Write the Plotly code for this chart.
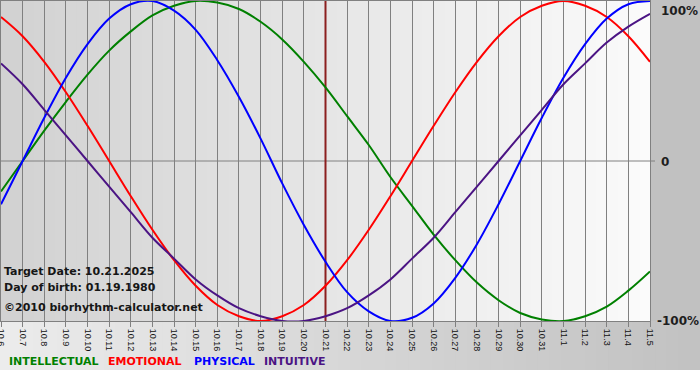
import plotly.graph_objects as go

# ---- data (fraction of 100%) ----
dates = ["10.6", "10.7", "10.8", "10.9", "10.10", "10.11", "10.12", "10.13", "10.14", "10.15",
         "10.16", "10.17", "10.18", "10.19", "10.20", "10.21", "10.22", "10.23", "10.24", "10.25",
         "10.26", "10.27", "10.28", "10.29", "10.30", "10.31", "11.1", "11.2", "11.3", "11.4", "11.5"]

intellectual = [-0.19, 0.00, 0.19, 0.37, 0.54, 0.69, 0.81, 0.91, 0.97, 1.00, 0.99, 0.95, 0.87, 0.76, 0.62, 0.46,
                0.28, 0.10, -0.10, -0.28, -0.46, -0.62, -0.76, -0.87, -0.95, -0.99, -1.00, -0.97, -0.91, -0.81, -0.69]
emotional = [0.90, 0.78, 0.62, 0.43, 0.22, 0.00, -0.22, -0.43, -0.62, -0.78, -0.90, -0.97, -1.00, -0.97, -0.90, -0.78,
             -0.62, -0.43, -0.22, 0.00, 0.22, 0.43, 0.62, 0.78, 0.90, 0.97, 1.00, 0.97, 0.90, 0.78, 0.62]
physical = [-0.27, 0.00, 0.27, 0.52, 0.73, 0.89, 0.98, 1.00, 0.94, 0.82, 0.63, 0.40, 0.14, -0.14, -0.40, -0.63,
            -0.82, -0.94, -1.00, -0.98, -0.89, -0.73, -0.52, -0.27, 0.00, 0.27, 0.52, 0.73, 0.89, 0.98, 1.00]
intuitive = [0.61, 0.48, 0.32, 0.16, 0.00, -0.16, -0.32, -0.48, -0.61, -0.74, -0.84, -0.92, -0.97, -1.00, -1.00, -0.97,
             -0.92, -0.84, -0.74, -0.61, -0.48, -0.32, -0.16, 0.00, 0.16, 0.32, 0.48, 0.61, 0.74, 0.84, 0.92]

target_date = "10.21"
info_lines = ["Target Date: 10.21.2025", "Day of birth: 01.19.1980", "\u00a92010 biorhythm-calculator.net"]
series_names = ["INTELLECTUAL", "EMOTIONAL", "PHYSICAL", "INTUITIVE"]
y_labels = ["100%", "0", "-100%"]

# ---- styling ----
colors = {"INTELLECTUAL": "#008000", "EMOTIONAL": "#ff0000", "PHYSICAL": "#0000ff", "INTUITIVE": "#4b1484"}
W, H = 700, 380
L, R, T, B = 1, 50, 1, 59
PW, PH = W - L - R, H - T - B


def px(x):
    return (x - L) / PW


def py(y):
    return (H - B - y) / PH


xs = list(range(len(dates)))
fig = go.Figure()

shapes = []
# plot-area gradient (left grey -> right near-white)
n = 60
for i in range(n):
    c = int(210 + (251 - 210) * i / (n - 1))
    shapes.append(dict(type="rect", xref="paper", yref="paper", x0=i / n, x1=(i + 1) / n + 0.002,
                       y0=0, y1=1, fillcolor=f"rgb({c},{c},{c})", line=dict(width=0), layer="below"))
# right margin
shapes.append(dict(type="rect", xref="paper", yref="paper", x0=1, x1=px(W + 2), y0=0, y1=py(-2),
                   fillcolor="rgb(193,193,193)", line=dict(width=0), layer="below"))
# bottom band gradient (light left -> grey right)
for i in range(n):
    c = int(236 + (194 - 236) * i / (n - 1))
    x0 = px(-2 + (W + 4) * i / n)
    x1 = px(-2 + (W + 4) * (i + 1) / n) + 0.002
    shapes.append(dict(type="rect", xref="paper", yref="paper", x0=x0, x1=x1, y0=py(370), y1=0,
                       fillcolor=f"rgb({c},{c},{c})", line=dict(width=0), layer="below"))
# zero line
shapes.append(dict(type="line", xref="paper", yref="y", x0=0, x1=px(655), y0=0, y1=0,
                   line=dict(color="#808080", width=1), layer="below"))

ti = dates.index(target_date)
fig.add_trace(go.Scatter(x=[ti, ti], y=[-1.02, 1.02], mode="lines",
                         line=dict(color="#8b1f1f", width=2), hoverinfo="skip", showlegend=False))

for name, vals in zip(series_names, [intellectual, emotional, physical, intuitive]):
    fig.add_trace(go.Scatter(x=xs, y=vals, mode="lines", name=name,
                             line=dict(color=colors[name], width=2, shape="spline", smoothing=1.0),
                             showlegend=False))

ann = []
font_b = "DejaVu Sans"
for i, t in enumerate(info_lines):
    yy = [271, 287, 307][i]
    ann.append(dict(text=f"<b>{t}</b>", xref="paper", yref="paper", x=px(2), y=py(yy), xanchor="left",
                    yanchor="middle", showarrow=False, font=dict(family=font_b, size=11, color="#161616")))
for name, xl in zip(series_names, [7, 106, 192, 262]):
    ann.append(dict(text=f"<b>{name}</b>", xref="paper", yref="paper", x=px(xl), y=py(361), xanchor="left",
                    yanchor="middle", showarrow=False, font=dict(family=font_b, size=11, color=colors[name])))
for lab, xl, yy in zip(y_labels, [659, 659, 655], [11, 162, 321]):
    ann.append(dict(text=f"<b>{lab}</b>", xref="paper", yref="paper", x=px(xl), y=py(yy), xanchor="left",
                    yanchor="middle", showarrow=False, font=dict(family=font_b, size=12, color="#1e1e1e")))

fig.update_layout(
    width=W, height=H, margin=dict(l=L, r=R, t=T, b=B, autoexpand=False),
    paper_bgcolor="white", plot_bgcolor="rgba(0,0,0,0)",
    shapes=shapes, annotations=ann, showlegend=False,
    xaxis=dict(range=[0, len(dates) - 1], tickvals=xs, ticktext=dates, tickangle=90,
               showgrid=True, gridcolor="#808080", gridwidth=1, zeroline=False,
               ticks="outside", ticklen=5, tickcolor="#808080",
               showline=True, linecolor="#808080", mirror=True, ticklabeloverflow="allow",
               tickfont=dict(family="Liberation Sans", size=9, color="#111111"), automargin=False),
    yaxis=dict(range=[-1, 1], showgrid=False, zeroline=False, showticklabels=False,
               showline=True, linecolor="#808080", mirror=True, automargin=False, fixedrange=True),
)

fig.write_html("out.html", config={"displayModeBar": False, "staticPlot": True},
               post_script="document.body.style.margin='0';document.body.style.overflow='hidden';")
